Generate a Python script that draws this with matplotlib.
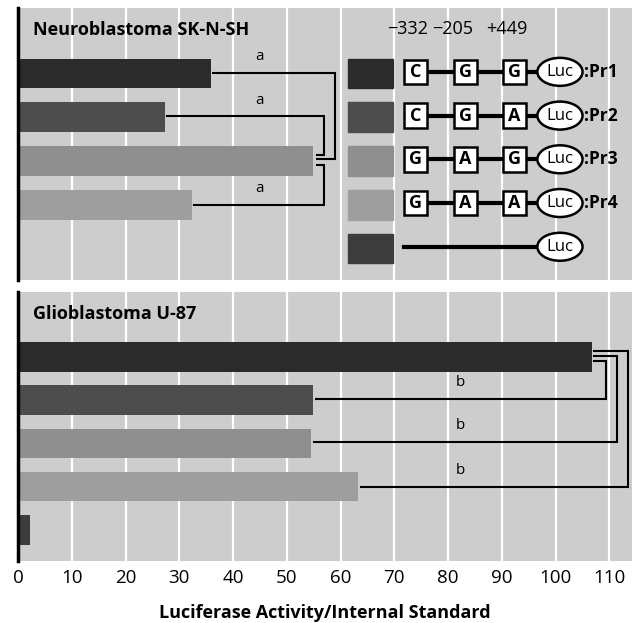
import matplotlib.pyplot as plt
from matplotlib.patches import Rectangle, Ellipse
import numpy as np

plt.rcParams['font.family'] = ['Open Sans', 'DejaVu Sans']

# data
constructs = ['Pr1', 'Pr2', 'Pr3', 'Pr4', 'Control']
neuro = [35.9, 27.3, 54.9, 32.4, 0.4]
glio = [106.8, 54.9, 54.5, 63.2, 2.2]
bar_colors = ['#2b2b2b', '#4d4d4d', '#8f8f8f', '#9e9e9e', '#3c3c3c']
alleles = [['C', 'G', 'G'], ['C', 'G', 'A'], ['G', 'A', 'G'], ['G', 'A', 'A'], None]
positions = ['\u2212332', '\u2212205', '+449']
xticks = list(range(0, 111, 10))

bg = '#cdcdcd'
fig = plt.figure(figsize=(6.44, 6.23), dpi=100)
ax1 = fig.add_axes([18 / 644, 1 - 280 / 623, 614 / 644, 272 / 623])
ax2 = fig.add_axes([18 / 644, 1 - 561 / 623, 614 / 644, 269 / 623])

y = np.arange(len(constructs))
for ax, vals, title in [(ax1, neuro, 'Neuroblastoma SK-N-SH'),
                        (ax2, glio, 'Glioblastoma U-87')]:
    ax.set_facecolor(bg)
    ax.set_xlim(0, 114.2)
    ax.set_ylim(4.72, -1.5)
    for gx in xticks[1:]:
        ax.axvline(gx, color='white', lw=1.6, zorder=1)
    ax.barh(y, vals, height=0.68, color=bar_colors, zorder=2)
    for s in ['top', 'right', 'bottom']:
        ax.spines[s].set_visible(False)
    ax.spines['left'].set_linewidth(2.5)
    ax.set_yticks([])
    ax.text(2.8, -1.0, title, fontsize=13, fontweight='bold', va='center', ha='left')

ax1.set_xticks([])
ax2.set_xticks(xticks)
ax2.tick_params(axis='x', length=0, labelsize=13.5, pad=6)
ax2.set_xlabel('Luciferase Activity/Internal Standard', fontsize=13,
               fontweight='bold', labelpad=12)

# significance brackets, top panel (vs Pr3)
lk = dict(color='black', lw=1.5, zorder=3, solid_joinstyle='miter')
g = 0.4
for i, xr, y0, y1 in [(0, 58.95, -0.02, 1.95), (1, 56.9, 0.98, 1.86), (3, 56.9, 3.0, 2.1)]:
    ax1.plot([neuro[i] + g, xr, xr, neuro[2] + 0.7], [y0, y0, y1, y1], **lk)
    ax1.text(45, y0 - 0.2, 'a', fontsize=11, ha='center', va='bottom')

# significance brackets, bottom panel (vs Pr1)
for i, xr, y0 in [(1, 109.4, 0.09), (2, 111.4, -0.02), (3, 113.4, -0.14)]:
    yi = i - 0.03 if i != 3 else 3.0
    ax2.plot([glio[0] + g, xr, xr, glio[i] + 0.6], [y0, y0, yi, yi], **lk)
    ax2.text(82.2, yi - 0.2, 'b', fontsize=11, ha='center', va='bottom')

# legend with construct diagrams
box_x = [71.8, 81.1, 90.2]
bw, bh = 4.3, 0.56
for r, col in enumerate(bar_colors):
    ax1.add_patch(Rectangle((61.4, r - 0.34), 8.3, 0.68, color=col, zorder=4))
    ry = r - 0.04
    if alleles[r] is not None:
        ax1.plot([box_x[0] + bw, 96.7], [ry, ry], color='black', lw=3, zorder=4)
        for bx, a in zip(box_x, alleles[r]):
            ax1.add_patch(Rectangle((bx, ry - bh / 2), bw, bh, facecolor='white',
                                    edgecolor='black', lw=1.8, zorder=5))
            ax1.text(bx + bw / 2, ry, a, fontsize=13, fontweight='bold',
                     ha='center', va='center', zorder=6)
        ax1.text(105.2, ry, ':' + constructs[r], fontsize=12.5, fontweight='bold',
                 ha='left', va='center', zorder=6)
    else:
        ax1.plot([box_x[0], 96.7], [ry, ry], color='black', lw=3, zorder=4)
    ax1.add_patch(Ellipse((100.8, ry), 8.4, 0.64, facecolor='white',
                          edgecolor='black', lw=1.8, zorder=5))
    ax1.text(100.8, ry, 'Luc', fontsize=12, ha='center', va='center', zorder=6)

for bx, p in zip([72.5, 80.9, 91.0], positions):
    ax1.text(bx, -1.03, p, fontsize=13, ha='center', va='center')

fig.savefig('out.png', dpi=100, facecolor='white')
